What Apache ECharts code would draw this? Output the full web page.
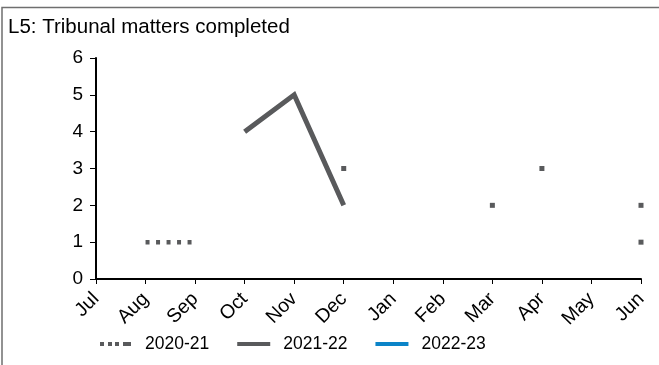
<!DOCTYPE html>
<html><head><meta charset="utf-8">
<script src="https://cdn.jsdelivr.net/npm/echarts@6/dist/echarts.min.js"></script>
<style>html,body{margin:0;padding:0;background:#fff}#c{width:659px;height:365px}</style>
</head><body><div id="c"></div>
<script>
var months = ['Jul','Aug','Sep','Oct','Nov','Dec','Jan','Feb','Mar','Apr','May','Jun'];
var s2020_21 = [null,1,1,null,null,3,null,null,null,3,null,2];
var s2021_22 = [null,null,null,4,5,2,null,null,2,null,null,1];
var s2022_23 = [null,null,null,null,null,null,null,null,null,null,null,null];
var yTicks = [0,1,2,3,4,5,6];

var GRAY = '#595a5c', BLUE = '#0b84c8';
function mark(arr){
  return arr.map(function(v,i){
    if (v === null) return null;
    var prev = i>0 ? arr[i-1] : null, next = i<arr.length-1 ? arr[i+1] : null;
    if (prev === null && next === null) return {value:v, symbol:'rect', symbolSize:5};
    return v;
  });
}
var dottedIcon = 'path://M0,0h4v4h-4z M8,0h4v4h-4z M15,0h4v4h-4z M23,0h8v4h-8z';
var solidIcon = 'path://M0,0h35v4h-35z';
var chart = echarts.init(document.getElementById('c'), null, {renderer:'canvas'});
var font = 'Liberation Sans, Arial, sans-serif';
chart.setOption({
  animation:false,
  textStyle:{fontFamily:font},
  title:{text:'L5: Tribunal matters completed', left:3, top:12,
    textStyle:{fontSize:20.5, fontWeight:'normal', color:'#000', fontFamily:font}},
  graphic:[{type:'polyline', shape:{points:[[2,370],[2,7.5],[670,7.5]]},
    style:{stroke:'#6f6f6f', lineWidth:1.5, fill:null}}],
  grid:{left:96, right:18, top:58, bottom:86},
  legend:{bottom:7, left:95, itemWidth:33, itemHeight:4, itemGap:28,
    itemStyle:{borderWidth:0},
    textStyle:{fontSize:17.5, color:'#000', fontFamily:font, padding:[0,0,0,8]},
    data:[{name:'2020-21', icon:dottedIcon, itemStyle:{color:GRAY}},
          {name:'2021-22', icon:solidIcon, itemStyle:{color:GRAY}},
          {name:'2022-23', icon:solidIcon, itemStyle:{color:BLUE}}]},
  xAxis:{type:'category', data:months, boundaryGap:false,
    axisLine:{lineStyle:{color:'#000', width:2}},
    axisTick:{show:true, alignWithLabel:true, lineStyle:{color:'#000'}, length:5},
    axisLabel:{rotate:45, fontSize:19.5, color:'#000', margin:17, interval:0}},
  yAxis:{type:'value', min:yTicks[0], max:yTicks[yTicks.length-1], interval:1,
    splitLine:{show:false},
    axisLine:{show:true, lineStyle:{color:'#000', width:2}},
    axisTick:{show:true, length:6, lineStyle:{color:'#000'}},
    axisLabel:{fontSize:19, color:'#000', margin:13}},
  series:[
    {name:'2020-21', type:'line', data:mark(s2020_21), symbol:'none', showSymbol:true,
      connectNulls:false, color:GRAY, itemStyle:{color:GRAY},
      lineStyle:{color:GRAY, width:4.5, type:[4,6.5], cap:'butt'}},
    {name:'2021-22', type:'line', data:mark(s2021_22), symbol:'none', showSymbol:true,
      connectNulls:false, color:GRAY, itemStyle:{color:GRAY},
      lineStyle:{color:GRAY, width:5, cap:'butt', join:'miter'}},
    {name:'2022-23', type:'line', data:mark(s2022_23), symbol:'none', showSymbol:true,
      color:BLUE, itemStyle:{color:BLUE}, lineStyle:{color:BLUE, width:4}}
  ]
});
</script></body></html>
